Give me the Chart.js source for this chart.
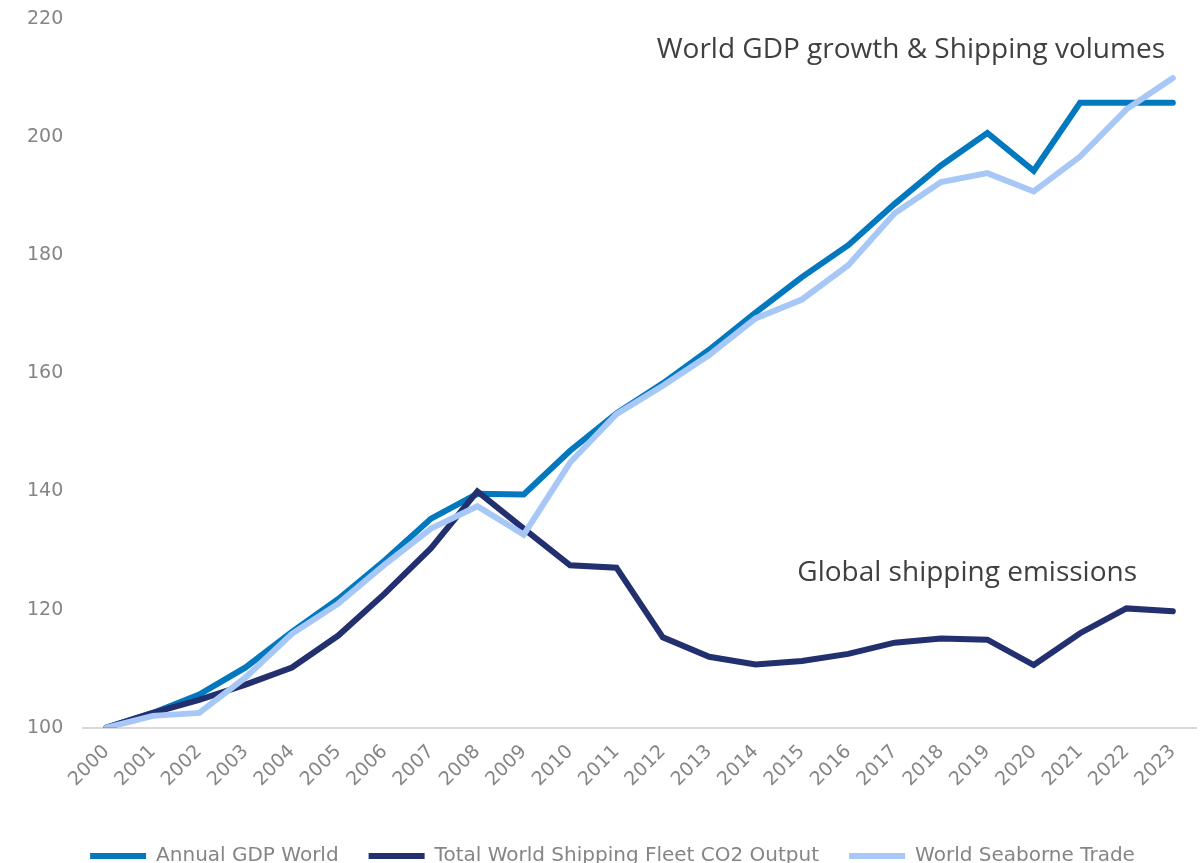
<!DOCTYPE html>
<html>
<head>
<meta charset="utf-8">
<title>World GDP, shipping volumes and emissions</title>
<script src="https://cdn.jsdelivr.net/npm/chart.js@4/dist/chart.umd.min.js"></script>
<style>
  html, body { margin: 0; padding: 0; background: #fff; overflow: hidden; }
  #wrap { width: 1204px; height: 876px; position: relative; }
</style>
</head>
<body>
<div id="wrap"><canvas id="chart"></canvas></div>
<script>
// Index, 2000 = 100
const years = ['2000', '2001', '2002', '2003', '2004', '2005', '2006', '2007', '2008', '2009', '2010', '2011',
               '2012', '2013', '2014', '2015', '2016', '2017', '2018', '2019', '2020', '2021', '2022', '2023'];

const gdpWorld = [100, 102.5, 105.6, 110.2, 116.2, 121.8, 128.3, 135.4, 139.6, 139.5, 146.9, 153.2,
                  158.3, 164.0, 170.3, 176.3, 181.7, 188.7, 195.2, 200.7, 194.3, 205.8, 205.8, 205.8];

const fleetCO2 = [100, 102.5, 104.7, 107.3, 110.2, 115.6, 122.7, 130.4, 140.0, 133.7, 127.5, 127.1,
                  115.3, 112.0, 110.7, 111.3, 112.5, 114.4, 115.1, 114.9, 110.6, 116.0, 120.2, 119.7];

const seaborneTrade = [100, 102.0, 102.5, 108.5, 115.9, 121.0, 127.6, 133.7, 137.5, 132.7, 144.9, 153.1,
                       157.9, 163.1, 169.3, 172.5, 178.3, 187.1, 192.4, 193.9, 190.8, 196.7, 204.7, 210.0];

const yTicks = [100, 120, 140, 160, 180, 200, 220];

const seriesNames = ['Annual GDP World', 'Total World Shipping Fleet CO2 Output', 'World Seaborne Trade'];
const seriesColors = ['#0279BE', '#23306F', '#A7C8F7'];

const notes = [
    { text: 'World GDP growth & Shipping volumes', right: 1165, baseline: 58 },
    { text: 'Global shipping emissions', right: 1137, baseline: 581 }
];

const axisFont = { family: 'DejaVu Sans', size: 19 };
const grey = '#858585';

// free text labels on the plot, plus a small nudge of the legend row
const notesPlugin = {
    id: 'notes',
    beforeDraw(chart) {
        chart.legend.left += 11;
        chart.legend.right += 11;
    },
    afterDatasetsDraw(chart) {
        const ctx = chart.ctx;
        ctx.save();
        ctx.fillStyle = '#404040';
        ctx.font = '28px "Open Sans"';
        ctx.textAlign = 'right';
        ctx.textBaseline = 'alphabetic';
        notes.forEach(n => ctx.fillText(n.text, n.right, n.baseline));
        ctx.restore();
    }
};

function line(i, data, order) {
    return {
        label: seriesNames[i],
        data: data,
        borderColor: seriesColors[i],
        backgroundColor: seriesColors[i],
        borderWidth: 6,
        borderCapStyle: 'round',
        borderJoinStyle: 'miter',
        pointRadius: 0,
        tension: 0,
        order: order
    };
}

new Chart(document.getElementById('chart'), {
    type: 'line',
    data: {
        labels: years,
        datasets: [
            line(0, gdpWorld, 2),
            line(1, fleetCO2, 1),
            line(2, seaborneTrade, 0)
        ]
    },
    options: {
        responsive: true,
        maintainAspectRatio: false,
        animation: false,
        layout: { padding: { left: 7, right: 8, top: 19, bottom: 0 } },
        plugins: {
            tooltip: { enabled: false },
            legend: {
                position: 'bottom',
                labels: {
                    usePointStyle: true,
                    pointStyle: 'line',
                    pointStyleWidth: 56,
                    boxHeight: 5,
                    padding: 30,
                    color: grey,
                    font: { family: 'DejaVu Sans', size: 20 },
                    sort: (a, b) => a.datasetIndex - b.datasetIndex
                }
            }
        },
        scales: {
            x: {
                offset: true,
                grid: { display: false, drawTicks: false },
                border: { display: true, color: '#D9D9D9', width: 2 },
                ticks: {
                    color: grey,
                    font: axisFont,
                    minRotation: 45,
                    maxRotation: 45,
                    autoSkip: false,
                    padding: 13
                },
                // rotated year labels may hang past the plot edge; leave room above the legend
                afterFit: s => { s.paddingLeft = 0; s.paddingRight = 0; s.height += 12; }
            },
            y: {
                min: 100,
                max: 220,
                afterBuildTicks: axis => { axis.ticks = yTicks.map(v => ({ value: v })); },
                grid: { display: false, drawTicks: false },
                border: { display: false },
                ticks: { color: grey, font: axisFont, padding: 20 },
                afterFit: s => { s.paddingTop = 0; s.paddingBottom = 0; }
            }
        }
    },
    plugins: [notesPlugin]
});
</script>
</body>
</html>
